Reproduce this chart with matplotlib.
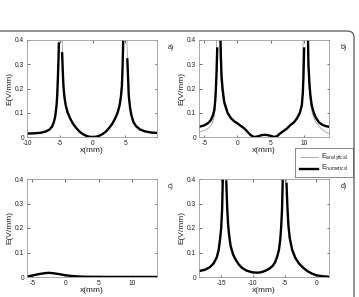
import numpy as np
import matplotlib
matplotlib.use("Agg")
import matplotlib.pyplot as plt
from matplotlib.patches import FancyBboxPatch

plt.rcParams['font.family'] = ['Liberation Sans', 'DejaVu Sans']
plt.rcParams['mathtext.default'] = 'regular'

nan = np.nan

# ---------------- Panel a ----------------
a_num_x = [-10.0, -9.0, -8.0, -7.2, -6.6, -6.2, -5.9, -5.7, -5.5, -5.4, -5.3, -5.2, -5.15, nan,
           -4.65, -4.55, -4.45, -4.3, -4.1, -3.8, -3.4, -3.0, -2.5, -2.0, -1.5, -1.0, -0.5, 0.0,
           0.5, 1.0, 1.5, 2.0, 2.5, 3.0, 3.4, 3.8, 4.1, 4.3, 4.45, 4.55, 4.62, 4.68, nan,
           5.28, 5.4, 5.5, 5.7, 5.9, 6.2, 6.6, 7.2, 8.0, 9.0, 9.8]
a_num_y = [0.014, 0.015, 0.017, 0.022, 0.030, 0.042, 0.062, 0.085, 0.13, 0.17, 0.24, 0.32, 0.385, nan,
           0.345, 0.27, 0.21, 0.165, 0.13, 0.10, 0.075, 0.055, 0.037, 0.022, 0.012, 0.005, 0.001, 0.0,
           0.001, 0.005, 0.012, 0.022, 0.037, 0.055, 0.075, 0.10, 0.13, 0.165, 0.21, 0.28, 0.36, 0.45, nan,
           0.32, 0.24, 0.17, 0.12, 0.09, 0.062, 0.045, 0.031, 0.023, 0.018, 0.017]
a_ana_x = [-10.0, -8.0, -6.6, -6.2, -5.9, -5.7, -5.5, -5.3, -5.15, -5.05, nan,
           -4.75, -4.65, -4.45, -4.1, -3.4, -2.5, -1.5, -0.5, 0.0, 0.5, 1.5, 2.5, 3.4, 4.1, 4.45, 4.62, 4.7, nan,
           5.07, 5.15, 5.3, 5.5, 5.9, 6.6, 8.0, 9.8]
a_ana_y = [0.014, 0.017, 0.030, 0.042, 0.062, 0.085, 0.13, 0.25, 0.40, 0.6, nan,
           0.6, 0.40, 0.23, 0.13, 0.075, 0.037, 0.012, 0.001, 0.0, 0.001, 0.012, 0.037, 0.075, 0.13, 0.22, 0.38, 0.6, nan,
           0.6, 0.45, 0.33, 0.17, 0.09, 0.045, 0.023, 0.017]

# ---------------- Panel b ----------------
b_num_x = [-5.8, -5.0, -4.4, -4.0, -3.7, -3.5, -3.35, -3.25, -3.15, -3.05, nan,
           -2.6, -2.5, -2.4, -2.25, -2.0, -1.5, -1.0, -0.5, 0.0, 0.5, 1.0, 1.5, 1.9, 2.3, 2.7,
           3.2, 3.7, 4.2, 4.7, 5.2, 5.6, 6.0, 6.4, 7.0, 7.5, 8.0, 8.5, 9.0, 9.4, 9.7, 9.85, 9.95, 10.05, nan,
           10.6, 10.7, 10.85, 11.0, 11.2, 11.5, 11.8, 12.3, 12.8, 13.3, 13.8]
b_num_y = [0.042, 0.048, 0.058, 0.07, 0.09, 0.11, 0.15, 0.2, 0.27, 0.365, nan,
           0.45, 0.33, 0.25, 0.2, 0.145, 0.1, 0.078, 0.065, 0.056, 0.046, 0.036, 0.022, 0.01, 0.002, 0.0,
           0.004, 0.008, 0.009, 0.007, 0.003, 0.0, 0.004, 0.014, 0.026, 0.036, 0.05, 0.06, 0.078, 0.1, 0.13, 0.18, 0.25, 0.365, nan,
           0.45, 0.3, 0.22, 0.17, 0.13, 0.1, 0.08, 0.06, 0.05, 0.045, 0.042]
b_ana_x = [-5.8, -5.0, -4.4, -4.0, -3.7, -3.5, -3.35, -3.2, -3.1, nan,
           -2.7, -2.6, -2.45, -2.25, -2.0, -1.5, -1.0, 0.0, 1.0, 1.9, 2.5, 3.5, 4.2, 5.0, 5.6, 6.4, 7.5, 8.5, 9.4, 9.7, 9.85, 9.92, nan,
           10.55, 10.65, 10.8, 11.0, 11.3, 11.8, 12.5, 13.2, 13.8]
b_ana_y = [0.021, 0.027, 0.036, 0.046, 0.062, 0.085, 0.12, 0.22, 0.6, nan,
           0.6, 0.32, 0.22, 0.17, 0.13, 0.095, 0.075, 0.054, 0.034, 0.01, 0.001, 0.007, 0.009, 0.005, 0.0, 0.013, 0.035, 0.058, 0.095, 0.13, 0.2, 0.6, nan,
           0.6, 0.3, 0.2, 0.14, 0.095, 0.06, 0.038, 0.022, 0.014]

# ---------------- Panel c ----------------
c_num_x = [-5.8, -5.0, -4.0, -3.0, -2.5, -2.0, -1.0, 0.0, 1.0, 2.0, 3.0, 5.0, 8.0, 13.8]
c_num_y = [0.002, 0.006, 0.012, 0.016, 0.017, 0.016, 0.012, 0.007, 0.004, 0.002, 0.001, 0.0005, 0.0003, 0.0002]
c_ana_x = c_num_x
c_ana_y = c_num_y

# ---------------- Panel d ----------------
d_num_x = [-18.5, -17.5, -16.8, -16.2, -15.7, -15.4, -15.2, -15.0, -14.85, -14.7, nan,
           -14.2, -14.05, -13.9, -13.7, -13.5, -13.1, -12.7, -12.2, -11.7, -11.0, -10.1, -9.5, -9.0, -8.5,
           -8.0, -7.4, -6.9, -6.5, -6.15, -5.9, -5.7, -5.55, -5.4, -5.25, nan,
           -4.7, -4.55, -4.4, -4.2, -3.8, -3.3, -2.7, -2.0, -1.4, -0.7, 0.0, 1.0, 2.0]
d_num_y = [0.024, 0.03, 0.04, 0.055, 0.08, 0.11, 0.15, 0.2, 0.28, 0.45, nan,
           0.39, 0.28, 0.21, 0.16, 0.125, 0.09, 0.07, 0.05, 0.037, 0.026, 0.019, 0.018, 0.018, 0.021,
           0.026, 0.034, 0.045, 0.06, 0.085, 0.11, 0.15, 0.2, 0.28, 0.45, nan,
           0.38, 0.28, 0.21, 0.16, 0.11, 0.077, 0.054, 0.036, 0.024, 0.014, 0.007, 0.003, 0.001]
d_ana_x = [-18.5, -16.8, -15.7, -15.2, -14.9, -14.62, nan,
           -14.3, -14.15, -13.9, -13.5, -12.7, -11.7, -10.1, -9.0, -8.0, -6.9, -6.15, -5.7, -5.4, -5.18, nan,
           -4.8, -4.65, -4.4, -3.8, -2.7, -1.4, 0.0, 2.0]
d_ana_y = [0.024, 0.04, 0.08, 0.15, 0.26, 0.6, nan,
           0.6, 0.35, 0.22, 0.13, 0.07, 0.037, 0.019, 0.018, 0.026, 0.045, 0.085, 0.15, 0.28, 0.6, nan,
           0.6, 0.34, 0.22, 0.11, 0.054, 0.024, 0.007, 0.001]

panels = [
    ("a)", a_num_x, a_num_y, a_ana_x, a_ana_y, (-10, 9.8), [-10, -5, 0, 5]),
    ("b)", b_num_x, b_num_y, b_ana_x, b_ana_y, (-5.8, 13.8), [-5, 0, 5, 10]),
    ("c)", c_num_x, c_num_y, c_ana_x, c_ana_y, (-5.8, 13.8), [-5, 0, 5, 10]),
    ("d)", d_num_x, d_num_y, d_ana_x, d_ana_y, (-18.5, 2.0), [-15, -10, -5, 0]),
]
y_ticks = [0, 0.1, 0.2, 0.3, 0.4]
y_ticklabels = ["0", "0.1", "0.2", "0.3", "0.4"]

W, H = 359, 297
fig = plt.figure(figsize=(W / 100, H / 100), dpi=100)

def px_rect(l, r, t, b):
    return [l / W, 1 - b / H, (r - l) / W, (b - t) / H]

rects = [px_rect(27, 157, 40, 137), px_rect(199, 329, 40, 137),
         px_rect(27, 157, 179, 277), px_rect(199, 329, 179, 277)]
label_pos = [(168, 47), (341, 47), (168, 187), (341, 187)]

# frame
frame = FancyBboxPatch((-0.05, -0.1), 0.05 + 354 / W, 0.1 + (H - 31) / H,
                       boxstyle="round,pad=0,rounding_size=0.02",
                       transform=fig.transFigure, fill=False, edgecolor="#555555",
                       linewidth=0.9, clip_on=False)
fig.patches.append(frame)

spine_col = "#9a9a9a"
for (lab, nx, ny, ax_, ay_, xlim, xt), rect, lp in zip(panels, rects, label_pos):
    ax = fig.add_axes(rect)
    ax.plot(ax_, ay_, color="#a0a0a0", lw=0.6)
    ax.plot(nx, ny, color="black", lw=1.7)
    ax.set_xlim(*xlim)
    ax.set_ylim(0, 0.4)
    ax.set_xticks(xt)
    ax.set_xticklabels([str(v) for v in xt])
    ax.set_yticks(y_ticks)
    ax.set_yticklabels(y_ticklabels)
    ax.tick_params(direction="in", length=1.8, width=0.5, labelsize=4.8,
                   top=True, right=True, colors="#303030", labelcolor="#222222")
    ax.tick_params(axis="x", pad=2.2)
    ax.tick_params(axis="y", pad=2.0)
    for s in ax.spines.values():
        s.set_color(spine_col)
        s.set_linewidth(0.6)
    ax.set_xlabel("x(mm)", fontsize=6, labelpad=0.3, color="#222222")
    ax.set_ylabel("E(V/mm)", fontsize=6, labelpad=1.2, color="#222222")
    fig.text(lp[0] / W, 1 - lp[1] / H, lab, fontsize=5, ha="left", va="center", color="#222222")

# legend
leg_ax = fig.add_axes([295 / W, 1 - 177 / H, 58 / W, 29 / H])
leg_ax.set_xlim(0, 1)
leg_ax.set_ylim(0, 1)
leg_ax.set_xticks([])
leg_ax.set_yticks([])
for s in leg_ax.spines.values():
    s.set_color("#777777")
    s.set_linewidth(0.6)
leg_ax.plot([0.08, 0.40], [0.68, 0.68], color="#a0a0a0", lw=0.6)
leg_ax.plot([0.08, 0.40], [0.28, 0.28], color="black", lw=1.7)
leg_ax.text(0.44, 0.70, r"$\mathregular{E_{analytical}}$", fontsize=5, va="center", ha="left", color="#222222")
leg_ax.text(0.44, 0.30, r"$\mathregular{E_{numerical}}$", fontsize=5, va="center", ha="left", color="#222222")

fig.savefig("out.png", dpi=100)
